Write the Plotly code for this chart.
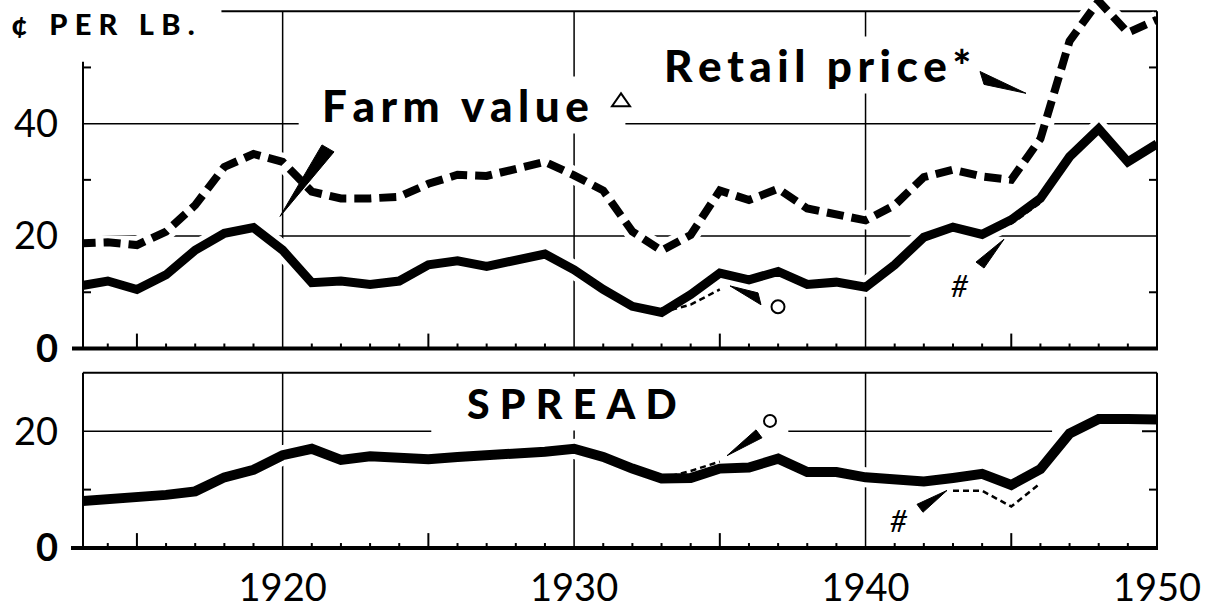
import plotly.graph_objects as go

# ---------------- data (cents per lb.) ----------------
years = list(range(1913, 1951))
retail_price = [18.7, 18.9, 18.4, 20.8, 25.5, 32.3, 34.6, 33.2, 27.9, 26.7,
                26.7, 27.0, 29.3, 30.9, 30.7, 31.9, 33.2, 30.8, 28.1, 20.8,
                17.4, 20.2, 28.1, 26.4, 28.4, 24.9, 24.0, 22.8, 25.5, 30.5,
                31.8, 30.6, 30.0, 37.3, 54.7, 61.8, 56.2, 58.5]
farm_value = [11.1, 12.0, 10.5, 13.1, 17.5, 20.5, 21.5, 17.5, 11.7, 12.0,
              11.4, 12.0, 14.9, 15.6, 14.6, 15.8, 16.8, 14.0, 10.5, 7.5,
              6.4, 9.6, 13.4, 12.2, 13.7, 11.4, 11.8, 10.9, 14.9, 19.8,
              21.6, 20.3, 22.9, 26.7, 34.1, 39.1, 33.2, 36.4]
spread = [8.0, 8.3, 9.0, 9.1, 9.7, 12.1, 13.4, 15.9, 17.0, 15.1,
          15.7, 15.6, 15.2, 15.6, 15.8, 16.2, 16.5, 17.0, 15.6, 13.6,
          11.9, 12.0, 13.6, 13.8, 15.3, 13.0, 13.0, 12.1, 11.6, 11.4,
          12.0, 12.7, 10.8, 13.5, 19.6, 22.1, 22.1, 22.0]

farm_alt_a_years = [1933, 1934, 1935]
farm_alt_a = [6.4, 7.8, 10.5]
farm_alt_b_years = [1944, 1945, 1946]
farm_alt_b = [20.2, 22.2, 25.9]
spread_alt_a_years = [1933, 1934, 1935]
spread_alt_a = [11.9, 13.2, 14.8]
spread_alt_b_years = [1943, 1944, 1945, 1946]
spread_alt_b = [9.8, 9.8, 7.1, 11.1]

x_label_vals = [1920, 1930, 1940, 1950]
x_label_text = ["1920", "1930", "1940", "1950"]
top_label_vals = [0, 20, 40]
top_label_text = ["<b>0</b>", "20", "40"]
bot_label_vals = [0, 20]
bot_label_text = ["<b>0</b>", "20"]

# ---------------- layout geometry ----------------
W, H = 1211, 609
ML, MR, MT, MB = 83, 54, 0, 57
PW, PH = W - ML - MR, H - MT - MB
X0, X1 = 1913.15, 1950.0
TOP_DOM = [0.3641, 1.0]
TOP_RANGE = [0, 62]
BOT_DOM = [0.0, 0.3196]
BOT_RANGE = [0, 30]

def xp(year):
    return (year - X0) / (X1 - X0)

def yt(v):
    return TOP_DOM[0] + (v - TOP_RANGE[0]) / (TOP_RANGE[1] - TOP_RANGE[0]) * (TOP_DOM[1] - TOP_DOM[0])

def yb(v):
    return BOT_DOM[0] + (v - BOT_RANGE[0]) / (BOT_RANGE[1] - BOT_RANGE[0]) * (BOT_DOM[1] - BOT_DOM[0])

def PX(px):
    return (px - ML) / PW

def PY(py):
    return (H - MB - py) / PH

BLACK = "#000000"
WHITE = "#ffffff"

fig = go.Figure()

# halos (white) to break grid lines, then the lines
fig.add_trace(go.Scatter(x=years, y=retail_price, mode="lines", line=dict(color=WHITE, width=18),
                         xaxis="x", yaxis="y", hoverinfo="skip", showlegend=False))
fig.add_trace(go.Scatter(x=years, y=farm_value, mode="lines", line=dict(color=WHITE, width=19),
                         xaxis="x", yaxis="y", hoverinfo="skip", showlegend=False))
fig.add_trace(go.Scatter(x=years, y=spread, mode="lines", line=dict(color=WHITE, width=20),
                         xaxis="x2", yaxis="y2", hoverinfo="skip", showlegend=False))

fig.add_trace(go.Scatter(x=years, y=retail_price, mode="lines", name="Retail price",
                         line=dict(color=BLACK, width=8, dash="17px,8px"),
                         xaxis="x", yaxis="y", showlegend=False))
fig.add_trace(go.Scatter(x=years, y=farm_value, mode="lines", name="Farm value",
                         line=dict(color=BLACK, width=9), xaxis="x", yaxis="y", showlegend=False))
for xs, ys in [(farm_alt_a_years, farm_alt_a), (farm_alt_b_years, farm_alt_b)]:
    fig.add_trace(go.Scatter(x=xs, y=ys, mode="lines", line=dict(color=BLACK, width=2.5, dash="6px,4px"),
                             xaxis="x", yaxis="y", showlegend=False))
fig.add_trace(go.Scatter(x=years, y=spread, mode="lines", name="Spread",
                         line=dict(color=BLACK, width=10), xaxis="x2", yaxis="y2", showlegend=False))
for xs, ys in [(spread_alt_a_years, spread_alt_a), (spread_alt_b_years, spread_alt_b)]:
    fig.add_trace(go.Scatter(x=xs, y=ys, mode="lines", line=dict(color=BLACK, width=2.5, dash="6px,4px"),
                             xaxis="x2", yaxis="y2", showlegend=False))

shapes = []

def seg(x0, y0, x1, y1, width=1.5, layer="below"):
    shapes.append(dict(type="line", xref="paper", yref="paper", x0=x0, y0=y0, x1=x1, y1=y1,
                       line=dict(color=BLACK, width=width), layer=layer))

# ---- top panel frame ----
seg(PX(72), yt(0), 1.0 + 1 / PW, yt(0), width=4, layer="above")
seg(0, yt(0), 0, yt(51), width=2, layer="above")
seg(1, yt(0), 1, yt(60), width=2, layer="above")
seg(xp(1917.9), yt(60), 1, yt(60), width=2, layer="below")
# grid
seg(0, yt(20), 1, yt(20))
seg(0, yt(40), xp(1920.55), yt(40))
seg(xp(1931.76), yt(40), 1, yt(40))
for gx in [1920, 1930, 1940]:
    seg(xp(gx), yt(0), xp(gx), yt(60))
for v in [10, 30, 50]:
    seg(0, yt(v), 8 / PW, yt(v), width=2, layer="above")
    seg(1 - 8 / PW, yt(v), 1, yt(v), width=2, layer="above")

# ---- bottom panel frame ----
seg(PX(71), yb(0), 1.0 + 1 / PW, yb(0), width=4, layer="above")
seg(0, yb(0), 0, yb(30), width=2, layer="above")
seg(1, yb(0), 1, yb(30), width=2, layer="above")
seg(0, yb(30), 1, yb(30), width=2, layer="below")
seg(0, yb(20), xp(1925.1), yb(20))
seg(xp(1937.35), yb(20), xp(1946.4), yb(20))
for gx in [1920, 1930, 1940]:
    seg(xp(gx), yb(0), xp(gx), yb(30))
seg(0, yb(10), 8 / PW, yb(10), width=2, layer="above")
seg(1 - 8 / PW, yb(10), 1, yb(10), width=2, layer="above")
seg(1 - 15 / PW, yb(20), 1, yb(20), width=2, layer="above")

# x ticks on both panels
major_ticks = [1915, 1925, 1935, 1945]
for yr in range(1914, 1950):
    if yr in (1920, 1930, 1940):
        continue
    ln = 15 if yr in major_ticks else 5
    seg(xp(yr), yt(0), xp(yr), yt(0) + ln / PH, width=2, layer="above")
    seg(xp(yr), yb(0), xp(yr), yb(0) + ln / PH, width=2, layer="above")

# pointers (wedges)
def wedge(pts):
    p = "M " + " L ".join(f"{PX(a):.5f},{PY(b):.5f}" for a, b in pts) + " Z"
    shapes.append(dict(type="path", xref="paper", yref="paper", path=p,
                       fillcolor=BLACK, line=dict(color=BLACK, width=1), layer="above"))

wedge([(322, 146), (334, 153), (280, 218)])      # farm value
wedge([(980, 72), (984, 85), (1026, 94)])        # retail price
wedge([(730, 288), (758, 295), (761, 307)])      # circle, top
wedge([(976, 264), (984, 270), (1004, 241)])     # hash, top
wedge([(727, 459), (756, 433), (762, 441)])      # circle, bottom
wedge([(917, 508), (923, 516), (947, 494)])      # hash, bottom

def circle(cx, cy, r):
    shapes.append(dict(type="circle", xref="paper", yref="paper",
                       x0=PX(cx - r), x1=PX(cx + r), y0=PY(cy + r), y1=PY(cy - r),
                       line=dict(color=BLACK, width=2), fillcolor=WHITE, layer="above"))

circle(778, 309, 6.5)
circle(770, 424, 6)

# small triangle after "Farm value"
tri = f"M {PX(621):.5f},{PY(94):.5f} L {PX(612):.5f},{PY(107):.5f} L {PX(630):.5f},{PY(107):.5f} Z"
shapes.append(dict(type="path", xref="paper", yref="paper", path=tri,
                   line=dict(color=BLACK, width=2), fillcolor=WHITE, layer="above"))

TH = "\u2009"

def spaced(s, n=1):
    return (TH * n).join(list(s))

annos = []
HEAVY = "'Lato Black', 'Lato Heavy', Lato, 'DejaVu Sans', sans-serif"

def label(text, cx, cy, size, anchor="left", weight=900, italic=False, bg=True, family=HEAVY):
    annos.append(dict(text=text, xref="paper", yref="paper", x=PX(cx), y=PY(cy),
                      xanchor=anchor, yanchor="middle", showarrow=False,
                      font=dict(family=family, size=size, color=BLACK,
                                weight=weight, style="italic" if italic else "normal"),
                      bgcolor=WHITE if bg else "rgba(0,0,0,0)", borderpad=2))

label(spaced("¢ PER LB.", 2), 8, 24, 29)
label(spaced("Farm value"), 319, 106, 44)
label(spaced("Retail price*"), 661, 65, 44)
label(spaced("SPREAD", 2), 464, 406, 41)
label("#", 960, 287, 30, anchor="center", weight=400, italic=True, bg=False,
      family="Lato, 'DejaVu Sans', sans-serif")
label("#", 899, 524, 30, anchor="center", weight=400, italic=True, bg=False,
      family="Lato, 'DejaVu Sans', sans-serif")

tick_font = dict(family="Lato, 'DejaVu Sans', sans-serif", size=38, color=BLACK, weight=400)

fig.update_layout(
    width=W, height=H,
    margin=dict(l=ML, r=MR, t=MT, b=MB),
    paper_bgcolor=WHITE, plot_bgcolor=WHITE,
    showlegend=False,
    shapes=shapes,
    annotations=annos,
    xaxis=dict(domain=[0, 1], range=[X0, X1], anchor="y", showticklabels=False, showgrid=False,
               zeroline=False, showline=False, ticks=""),
    yaxis=dict(domain=TOP_DOM, range=TOP_RANGE, anchor="x", tickvals=top_label_vals,
               ticktext=top_label_text, showgrid=False, zeroline=False, showline=False,
               ticks="", tickfont=tick_font, ticklabelstandoff=24),
    xaxis2=dict(domain=[0, 1], range=[X0, X1], anchor="y2", tickvals=x_label_vals,
                ticktext=x_label_text, showgrid=False, zeroline=False, showline=False,
                ticks="", tickfont=tick_font, ticklabelstandoff=14),
    yaxis2=dict(domain=BOT_DOM, range=BOT_RANGE, anchor="x2", tickvals=bot_label_vals,
                ticktext=bot_label_text, showgrid=False, zeroline=False, showline=False,
                ticks="", tickfont=tick_font, ticklabelstandoff=24),
)

fig.write_html("out.html", config={"displayModeBar": False, "staticPlot": True},
               post_script="document.body.style.margin='0';document.body.style.overflow='hidden';")
